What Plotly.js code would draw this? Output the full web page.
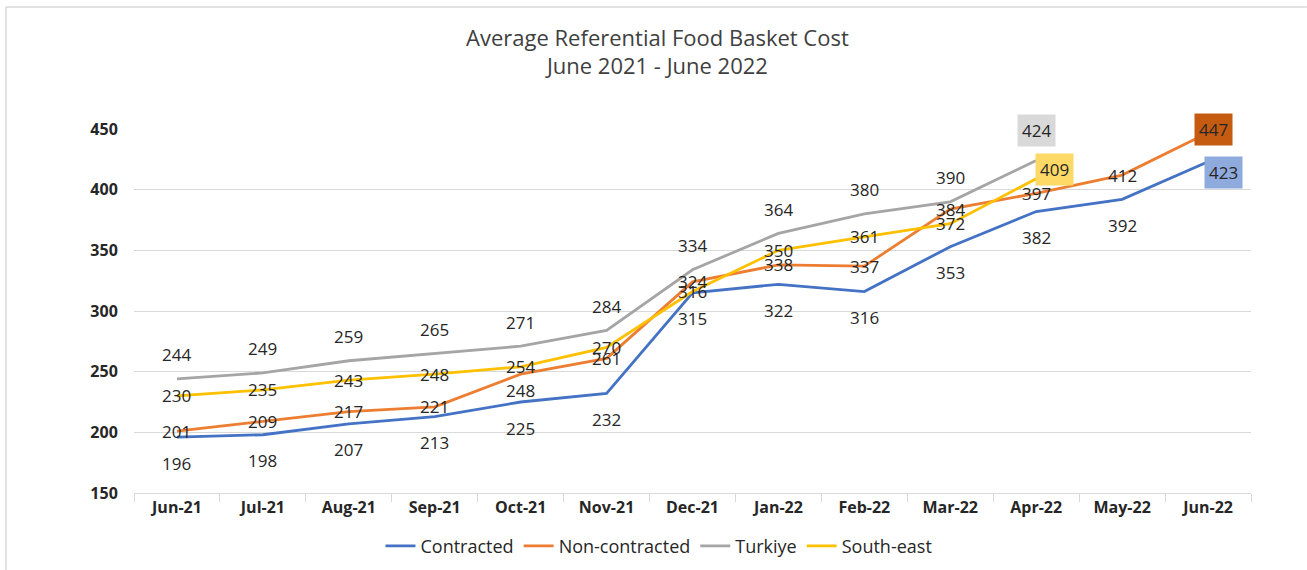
<!DOCTYPE html>
<html>
<head>
<meta charset="utf-8">
<script src="https://cdn.plot.ly/plotly-3.0.1.min.js"></script>
<style>
  html, body { margin: 0; padding: 0; background: #ffffff; }
  #chart { width: 1307px; height: 570px; }
</style>
</head>
<body>
<div id="chart"></div>
<script>
const months = ["Jun-21","Jul-21","Aug-21","Sep-21","Oct-21","Nov-21","Dec-21","Jan-22","Feb-22","Mar-22","Apr-22","May-22","Jun-22"];
const contracted    = [196,198,207,213,225,232,315,322,316,353,382,392,423];
const nonContracted = [201,209,217,221,248,261,324,338,337,384,397,412,447];
const turkiye       = [244,249,259,265,271,284,334,364,380,390,424,null,null];
const southEast     = [230,235,243,248,254,270,316,350,361,372,409,null,null];

const FONT = "'Open Sans', sans-serif";
const series = [
  {name: "Contracted", y: contracted, color: "#4472C4", shift: -26, box: "#8FAADC", bxs: 15, bys: -11},
  {name: "Non-contracted", y: nonContracted, color: "#ED7D31", shift: 0, box: "#C55A11", bxs: 5, bys: 3},
  {name: "Turkiye", y: turkiye, color: "#A5A5A5", shift: 24, box: "#D9D9D9", bxs: 0, bys: 30},
  {name: "South-east", y: southEast, color: "#FFC000", shift: 0, box: "#FFD966", bxs: 18, bys: 9}
];

const traces = series.map(s => ({
  type: "scatter", mode: "lines", name: s.name, x: months, y: s.y,
  line: {color: s.color, width: 2.8}, hoverinfo: "x+y+name"
}));

const annotations = [];
series.forEach(s => {
  let last = -1;
  s.y.forEach((v, i) => { if (v !== null) last = i; });
  s.y.forEach((v, i) => {
    if (v === null) return;
    const a = {x: months[i], y: v, xref: "x", yref: "y", text: String(v), showarrow: false,
      font: {family: FONT, size: 17, color: "#262626"}, yshift: s.shift};
    if (s.name === "Non-contracted" && months[i] === "Oct-21") a.yshift = -16;
    if (i === last) {
      a.bgcolor = s.box; a.borderpad = 4; a.xshift = s.bxs; a.yshift = s.bys;
    }
    annotations.push(a);
  });
});

const layout = {
  width: 1307, height: 570,
  margin: {l: 134, r: 56, t: 129, b: 77, autoexpand: false},
  paper_bgcolor: "#ffffff", plot_bgcolor: "#ffffff",
  title: {text: "Average Referential Food Basket Cost<br>June 2021 - June 2022",
    font: {family: FONT, size: 22, color: "#404040"}, x: 0.503, xanchor: "center", y: 0.92, yanchor: "top"},
  xaxis: {type: "category", range: [-0.5, 12.5], showgrid: false, showline: true, linecolor: "#D9D9D9", linewidth: 1,
    ticks: "outside", tickson: "boundaries", ticklen: 8, tickcolor: "#D9D9D9",
    tickfont: {family: FONT, size: 16, color: "#262626", weight: "bold"}, fixedrange: true},
  yaxis: {range: [150, 450], dtick: 50, showgrid: true, gridcolor: "#D9D9D9", gridwidth: 1, zeroline: false,
    showline: false, ticks: "outside", ticklen: 12, tickcolor: "rgba(0,0,0,0)",
    tickfont: {family: FONT, size: 16, color: "#262626", weight: "bold"}, fixedrange: true},
  legend: {orientation: "h", x: 0.47, xanchor: "center", y: -0.146, yanchor: "middle",
    font: {family: FONT, size: 18, color: "#262626"}, tracegroupgap: 0},
  annotations: annotations,
  shapes: [
    {type: "line", xref: "paper", yref: "paper", x0: -0.1146, x1: 1.05, y0: 1.335, y1: 1.335, line: {color: "#D9D9D9", width: 1.5}},
    {type: "line", xref: "paper", yref: "paper", x0: -0.1146, x1: -0.1146, y0: -0.22, y1: 1.335, line: {color: "#D9D9D9", width: 1.5}}
  ],
  showlegend: true
};

Plotly.newPlot("chart", traces, layout, {displayModeBar: false, staticPlot: true});
</script>
</body>
</html>
